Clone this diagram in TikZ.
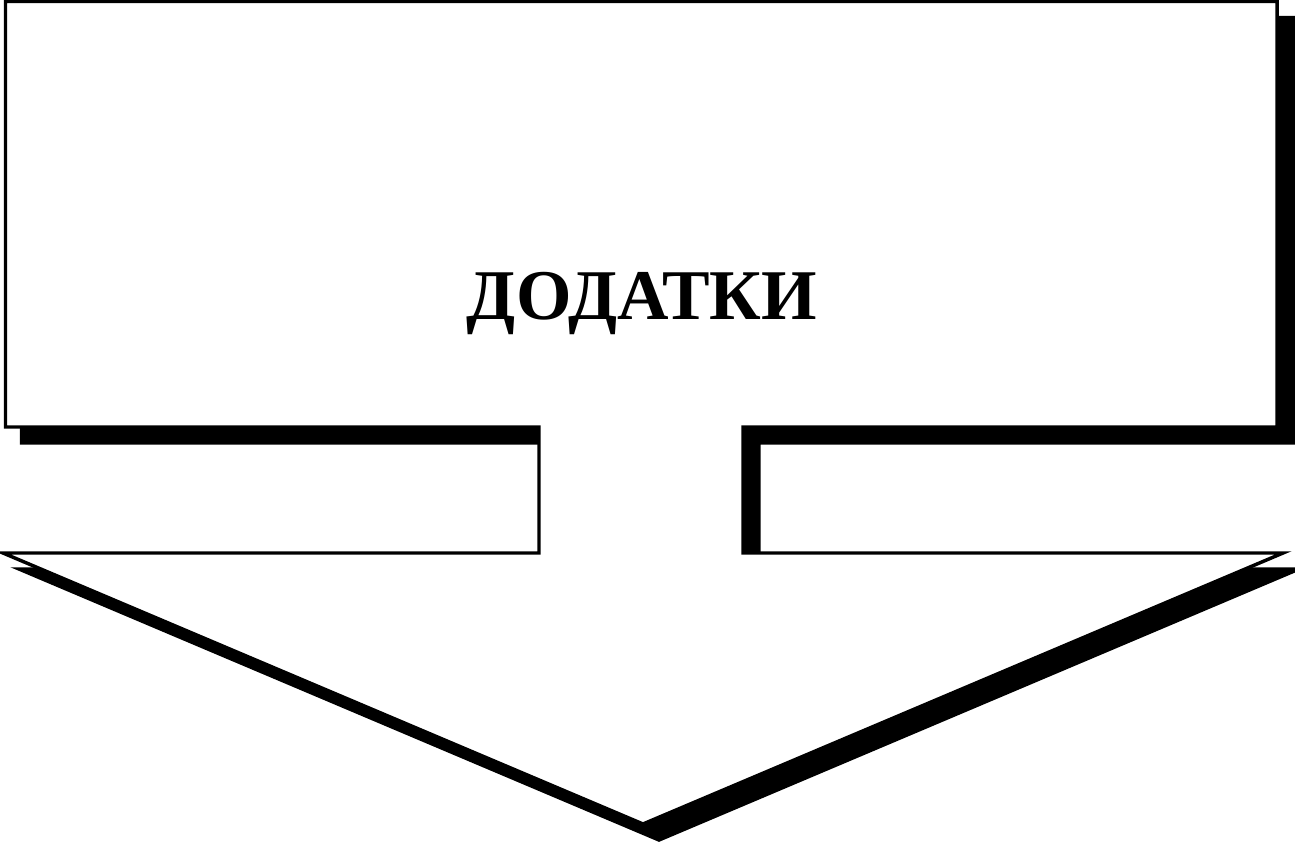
\documentclass[tikz,border=0pt]{standalone}
\usepackage{fontspec}
\setmainfont{Liberation Serif}
\begin{document}
\begin{tikzpicture}[x=0.75pt,y=-0.75pt,
  callout/.style={line width=2.6pt,line join=miter},
  shadowfill/.style={callout,draw=black,fill=black},
  mainfill/.style={callout,draw=black,fill=white},
  title/.style={font=\fontsize{53.5pt}{60pt}\selectfont\bfseries,inner sep=0pt}]
\useasboundingbox (0,0) rectangle (1295,845);
\def\calloutpath{(5.5,1.5) -- (1277,1.5) -- (1277,427) -- (743,427) -- (743,553) -- (1283,553) -- (643,824) -- (3,553) -- (539,553) -- (539,427) -- (5.5,427) -- cycle}
\begin{scope}[shift={(16,16)}]
  \path[shadowfill] \calloutpath;
\end{scope}
\path[mainfill] \calloutpath;
\node[title,anchor=base] (t) at (642,319) {ДОДАТКИ};
\end{tikzpicture}
\end{document}
